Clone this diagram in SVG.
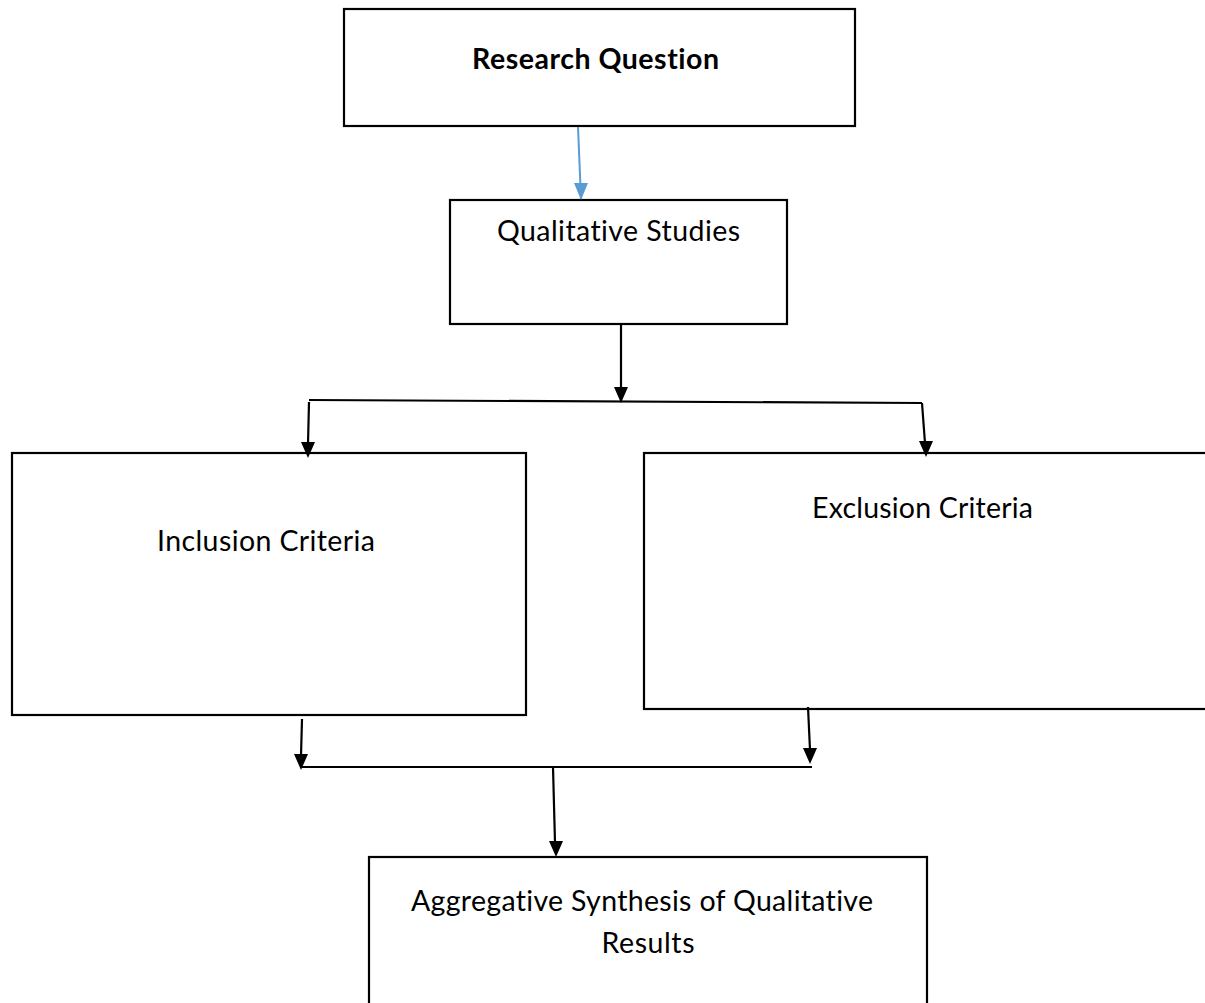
<svg xmlns="http://www.w3.org/2000/svg" width="1205" height="1003" viewBox="0 0 1205 1003">
<style>
.box{fill:#fff;stroke:#000;stroke-width:2.2}
.t{font-family:Lato,"Liberation Sans",sans-serif;font-size:28.5px;fill:#000;font-variant-ligatures:none}
.b{font-weight:bold}
.c{fill:none;stroke:#000;stroke-width:2.2}
</style>
<rect width="1205" height="1003" fill="#fff"/>
<g id="n1"><rect class="box" x="344" y="9" width="511" height="117"/><text class="t b" x="595.5" y="69" text-anchor="middle" textLength="247">Research Question</text></g>
<g id="n2"><rect class="box" x="450" y="200" width="337" height="124"/><text class="t" x="618.5" y="241" text-anchor="middle" textLength="243">Qualitative Studies</text></g>
<g id="n3"><rect class="box" x="12" y="453" width="514" height="262"/><text class="t" x="266" y="551" text-anchor="middle" textLength="218">Inclusion Criteria</text></g>
<g id="n4"><rect class="box" x="644" y="453" width="580" height="256"/><text class="t" x="922.5" y="518" text-anchor="middle" textLength="221">Exclusion Criteria</text></g>
<g id="n5"><rect class="box" x="369" y="857" width="558" height="160"/><text class="t" x="642" y="911" text-anchor="middle" textLength="462">Aggregative Synthesis of Qualitative</text><text class="t" x="648" y="953" text-anchor="middle" textLength="93">Results</text></g>
<g id="connectors">
<path d="M578,127 L581,199" fill="none" stroke="#5B9BD5" stroke-width="2"/>
<path d="M574,183 L588,183 L581,200 Z" fill="#5B9BD5"/>
<path class="c" d="M621,324 L621,389"/>
<path d="M614,387 L628,387 L621,403 Z"/>
<path class="c" d="M309,400 L922,403"/>
<path class="c" d="M309,402 L308,444"/>
<path d="M301,442 L315,442 L308,458 Z"/>
<path class="c" d="M922,403 L925,443"/>
<path d="M919,441 L933,441 L926,457 Z"/>
<path class="c" d="M302,719 L301,756"/>
<path d="M294,754 L308,754 L301,770 Z"/>
<path class="c" d="M808,707 L810,750"/>
<path d="M803,748 L817,748 L810,764 Z"/>
<path class="c" d="M302,767 L812,767"/>
<path class="c" d="M553,767 L555,843"/>
<path d="M549,841 L563,841 L556,857 Z"/>
</g>
</svg>
